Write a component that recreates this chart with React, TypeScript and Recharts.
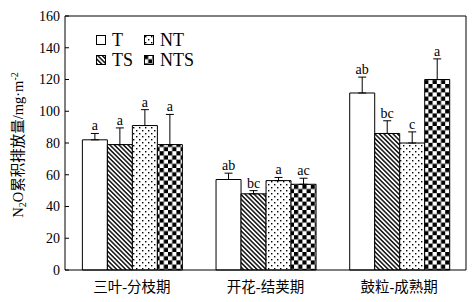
import React from 'react'
import { BarChart, Bar, XAxis, YAxis, ErrorBar, LabelList } from 'recharts'

// growth stages on the x axis
const categories = ['三叶-分枝期', '开花-结荚期', '鼓粒-成熟期']
const yTicks = [0, 20, 40, 60, 80, 100, 120, 140, 160]

// cumulative N2O emission (mg·m-2), upper error and significance letters
const tValues = [82, 57, 111.5]
const tErrors = [4, 4, 10]
const tLetters = ['a', 'ab', 'ab']

const tsValues = [79, 48, 86]
const tsErrors = [10.5, 2, 8]
const tsLetters = ['a', 'bc', 'bc']

const ntValues = [91, 56.3, 80]
const ntErrors = [10, 2, 7]
const ntLetters = ['a', 'a', 'c']

const ntsValues = [79, 54, 120]
const ntsErrors = [19, 3.8, 13]
const ntsLetters = ['a', 'ac', 'a']

const series = [
  { key: 't', name: 'T', fill: '#ffffff', values: tValues, errors: tErrors, letters: tLetters },
  { key: 'ts', name: 'TS', fill: 'url(#stripes)', values: tsValues, errors: tsErrors, letters: tsLetters },
  { key: 'nt', name: 'NT', fill: 'url(#dots)', values: ntValues, errors: ntErrors, letters: ntLetters },
  { key: 'nts', name: 'NTS', fill: 'url(#checker)', values: ntsValues, errors: ntsErrors, letters: ntsLetters },
]

// legend is a 2x2 grid: T, NT / TS, NTS
const legendOrder = ['t', 'nt', 'ts', 'nts']

const data = categories.map((cat, i) => {
  const row: Record<string, any> = { cat }
  series.forEach((s) => {
    row[s.key] = s.values[i]
    row[s.key + 'Err'] = s.errors[i]
    row[s.key + 'Range'] = [0, s.errors[i]]
    row[s.key + 'Letter'] = s.letters[i]
  })
  return row
})

const serif = '"Liberation Serif", "Times New Roman", "Noto Sans CJK SC", serif'
const cjk = '"Liberation Serif", "Noto Sans CJK SC", serif'

function YLabel(props: any) {
  const vb = props.viewBox || { x: 0, y: 16, width: 65, height: 254 }
  const cx = vb.x + 23
  const cy = vb.y + vb.height / 2 + 2
  return (
    <text
      x={cx}
      y={cy}
      transform={`rotate(-90 ${cx} ${cy})`}
      textAnchor="middle"
      fontFamily={cjk}
      fontSize={14.5}
      fill="#000"
    >
      N<tspan dy={3} fontSize={10}>2</tspan>
      <tspan dy={-3}>O累积排放量/mg·m</tspan>
      <tspan dy={-5} fontSize={10}>-2</tspan>
    </text>
  )
}

function Legend() {
  return (
    <>
      {legendOrder.map((key, i) => {
        const s = series.find((x) => x.key === key)!
        const col = i % 2
        const row = Math.floor(i / 2)
        return (
          <div
            key={key}
            style={{
              position: 'absolute',
              left: 96 + col * 48,
              top: 30 + row * 20,
              height: 20,
              display: 'flex',
              alignItems: 'center',
              fontFamily: serif,
              fontSize: 18,
              color: '#000',
              lineHeight: '20px',
            }}
          >
            <svg width={10} height={10} style={{ marginRight: 6 }}>
              <rect x={0.5} y={0.5} width={9} height={9} fill={s.fill} stroke="#000" strokeWidth={1} />
            </svg>
            <span>{s.name}</span>
          </div>
        )
      })}
    </>
  )
}

export default function App() {
  return (
    <div style={{ position: 'absolute', left: 0, top: 0, width: 473, height: 302, background: '#fff' }}>
      <BarChart
        width={473}
        height={302}
        data={data}
        margin={{ top: 15, right: 6, left: 0, bottom: 0 }}
        barCategoryGap="13%"
        barGap={0}
      >
        <defs>
          <pattern id="stripes" patternUnits="userSpaceOnUse" width={3.2} height={3.2} patternTransform="rotate(-45)">
            <rect width={3.2} height={3.2} fill="#fff" />
            <line x1={0.8} y1={0} x2={0.8} y2={3.2} stroke="#000" strokeWidth={1.4} />
          </pattern>
          <pattern id="dots" patternUnits="userSpaceOnUse" width={6} height={6}>
            <rect width={6} height={6} fill="#fff" />
            <rect x={1} y={1} width={1.4} height={1.4} fill="#000" />
            <rect x={4} y={4} width={1.4} height={1.4} fill="#000" />
          </pattern>
          <pattern id="checker" patternUnits="userSpaceOnUse" width={8.4} height={8.4}>
            <rect width={8.4} height={8.4} fill="#fff" />
            <rect x={0} y={0} width={4.2} height={4.2} fill="#000" />
            <rect x={4.2} y={4.2} width={4.2} height={4.2} fill="#000" />
          </pattern>
        </defs>

        <XAxis
          dataKey="cat"
          tickLine={false}
          stroke="#000"
          height={1}
          tickMargin={6}
          tick={{ fontFamily: cjk, fontSize: 14.5, fill: '#000' }}
        />
        {/* tick marks between the groups, pointing inward */}
        <XAxis
          xAxisId="grid"
          type="number"
          domain={[0, 3]}
          allowDataOverflow
          ticks={[1, 2]}
          tick={false}
          tickSize={-4}
          axisLine={false}
          stroke="#000"
          height={31}
        />
        <XAxis xAxisId="top" orientation="top" dataKey="cat" height={1} tick={false} tickLine={false} stroke="#000" />
        <YAxis
          domain={[0, 160]}
          ticks={yTicks}
          width={65}
          tickSize={-4}
          tickMargin={9}
          stroke="#000"
          tick={{ fontFamily: serif, fontSize: 14, fill: '#000' }}
          label={{ content: YLabel }}
        />
        <YAxis yAxisId="right" orientation="right" domain={[0, 160]} width={1} tick={false} tickLine={false} stroke="#000" />

        {series.flatMap((s) => [
          <Bar
            key={s.key}
            dataKey={s.key}
            stackId={s.key}
            fill={s.fill}
            stroke="#000"
            strokeWidth={1}
            isAnimationActive={false}
          >
            <ErrorBar dataKey={s.key + 'Range'} direction="y" width={4} stroke="#000" strokeWidth={1} />
          </Bar>,
          <Bar
            key={s.key + 'e'}
            dataKey={s.key + 'Err'}
            stackId={s.key}
            fill="none"
            isAnimationActive={false}
          >
            <LabelList
              dataKey={s.key + 'Letter'}
              position="top"
              offset={3}
              fill="#000"
              fontFamily={serif}
              fontSize={14}
            />
          </Bar>,
        ])}
      </BarChart>
      <Legend />
    </div>
  )
}
